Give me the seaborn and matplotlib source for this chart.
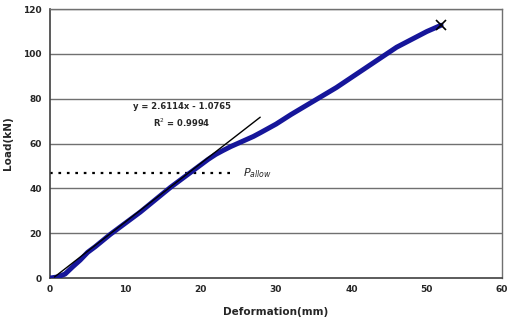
import numpy as np
import pandas as pd
import matplotlib
matplotlib.use("Agg")
import matplotlib.pyplot as plt
import seaborn as sns

# load-deformation curve
deformation = [0, 1, 2, 3, 4, 5, 6, 8, 10, 12, 14, 16, 18, 20, 21, 22, 23, 24,
               25, 26, 27, 28, 30, 32, 34, 36, 38, 40, 42, 44, 46, 48, 50, 51.9]
load = [0, 0.5, 1.8, 5, 8, 11.5, 14, 19.5, 24.5, 29.5, 35, 40.5, 45.5, 50.5,
        53, 55.2, 57, 58.7, 60.2, 61.7, 63.2, 65, 68.7, 73, 77, 81, 85, 89.5,
        94, 98.5, 103, 106.5, 110, 112.8]

# linear trendline from the chart's equation
slope, intercept = 2.6114, -1.0765
trend_x = [0.6, 27.9]
p_allow = 46.7

x_ticks = [0, 10, 20, 30, 40, 50, 60]
y_ticks = [0, 20, 40, 60, 80, 100, 120]

df = pd.DataFrame({"Deformation": deformation, "Load": load})
trend = pd.DataFrame({"x": trend_x})
trend["y"] = slope * trend["x"] + intercept

sns.set_style("white")
plt.rcParams["font.family"] = ["DejaVu Sans"]

fig = plt.figure(figsize=(5.08, 3.26), dpi=100)
ax = fig.add_axes([0.0984, 0.147, 0.890, 0.825])

for yv in y_ticks[1:]:
    ax.axhline(yv, color="#707070", lw=1.0, zorder=1)

sns.lineplot(data=df, x="Deformation", y="Load", ax=ax, color="#16169a",
             lw=3.6, zorder=3)
sns.lineplot(data=trend, x="x", y="y", ax=ax, color="black", lw=1.0, zorder=4)

ax.plot([0, 24.3], [p_allow, p_allow], color="black", lw=1.6,
        linestyle=(0, (1.2, 2.6)), zorder=2)
ax.text(25.6, p_allow, r"$P_{allow}$", fontsize=8, va="center", ha="left",
        style="italic")

ax.plot(deformation[-1], load[-1], marker="x", color="black", markersize=7,
        mew=1.2, zorder=5)

ax.text(17.5, 76.5, "y = 2.6114x - 1.0765", fontsize=6, fontweight="bold",
        ha="center", va="center")
ax.text(17.5, 69.5, "R$^2$ = 0.9994", fontsize=6, fontweight="bold",
        ha="center", va="center")

ax.set_xlim(0, 60)
ax.set_ylim(0, 120)
ax.set_xticks(x_ticks)
ax.set_yticks(y_ticks)
ax.tick_params(axis="x", direction="in", length=3, width=1, color="#404040",
               labelsize=6.5, pad=5)
ax.tick_params(axis="y", length=0, labelsize=6.5, pad=6)
for lab in ax.get_xticklabels() + ax.get_yticklabels():
    lab.set_fontweight("bold")

for side in ["left", "bottom"]:
    ax.spines[side].set_color("#404040")
    ax.spines[side].set_linewidth(1.2)
for side in ["top", "right"]:
    ax.spines[side].set_color("#707070")
    ax.spines[side].set_linewidth(1.0)

ax.set_xlabel("Deformation(mm)", fontsize=7.5, fontweight="bold", labelpad=9)
ax.set_ylabel("Load(kN)", fontsize=7.5, fontweight="bold", labelpad=7)

fig.savefig("out.png", dpi=100)
